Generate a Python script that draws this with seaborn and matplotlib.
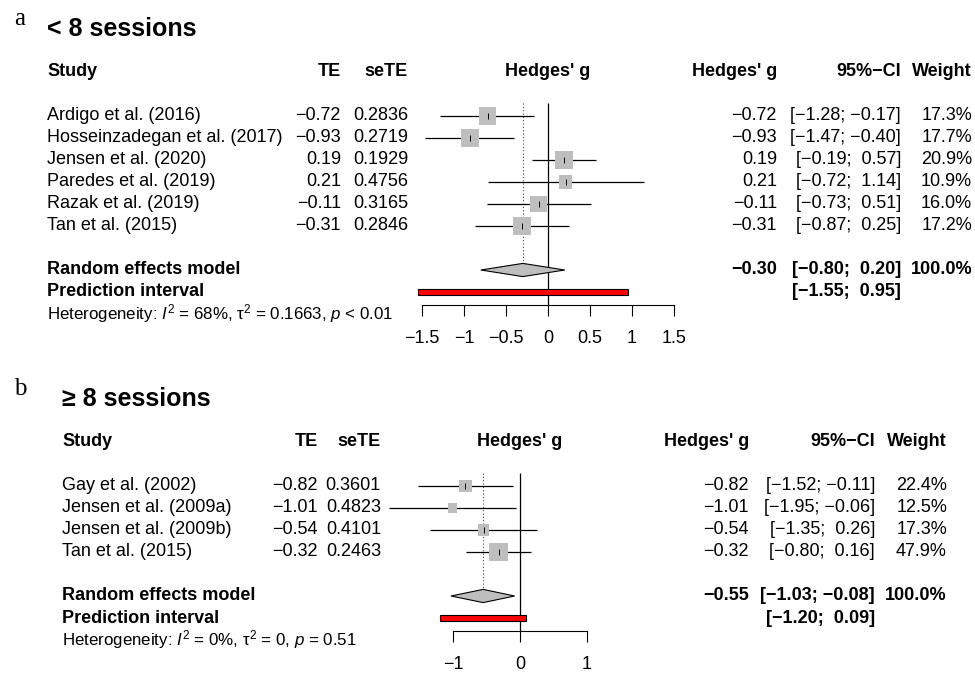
import numpy as np
import pandas as pd
import matplotlib
matplotlib.use("Agg")
import matplotlib.pyplot as plt
import matplotlib.transforms as mtransforms
import seaborn as sns

# ---- panel a: < 8 sessions
a_studies = ["Ardigo et al. (2016)", "Hosseinzadegan et al. (2017)", "Jensen et al. (2020)",
             "Paredes et al. (2019)", "Razak et al. (2019)", "Tan et al. (2015)"]
a_te = [-0.72, -0.93, 0.19, 0.21, -0.11, -0.31]
a_sete = [0.2836, 0.2719, 0.1929, 0.4756, 0.3165, 0.2846]
a_lower = [-1.28, -1.47, -0.19, -0.72, -0.73, -0.87]
a_upper = [-0.17, -0.40, 0.57, 1.14, 0.51, 0.25]
a_weight = [17.3, 17.7, 20.9, 10.9, 16.0, 17.2]
a_pooled = [-0.30, -0.80, 0.20]   # estimate, lower, upper
a_pred = [-1.55, 0.95]
a_ticks = [-1.5, -1, -0.5, 0, 0.5, 1, 1.5]
a_het = r"Heterogeneity: $I^2$ = 68%, τ$^2$ = 0.1663, $p$ < 0.01"

# ---- panel b: >= 8 sessions
b_studies = ["Gay et al. (2002)", "Jensen et al. (2009a)", "Jensen et al. (2009b)", "Tan et al. (2015)"]
b_te = [-0.82, -1.01, -0.54, -0.32]
b_sete = [0.3601, 0.4823, 0.4101, 0.2463]
b_lower = [-1.52, -1.95, -1.35, -0.80]
b_upper = [-0.11, -0.06, 0.26, 0.16]
b_weight = [22.4, 12.5, 17.3, 47.9]
b_pooled = [-0.55, -1.03, -0.08]
b_pred = [-1.20, 0.09]
b_ticks = [-1, 0, 1]
b_het = r"Heterogeneity: $I^2$ = 0%, τ$^2$ = 0, $p$ = 0.51"

sns.set_theme(style="white")
plt.rcParams['font.family'] = ['Liberation Sans', 'DejaVu Sans']
plt.rcParams['mathtext.fontset'] = 'custom'
plt.rcParams['mathtext.rm'] = 'Liberation Sans'
plt.rcParams['mathtext.it'] = 'Liberation Sans:italic'
plt.rcParams['mathtext.bf'] = 'Liberation Sans:bold'

W, H = 975, 674
fig = plt.figure(figsize=(W / 100, H / 100), dpi=100)
fig.patch.set_facecolor("white")

FS = 13


def num(v, nd):
    s = f"{v:.{nd}f}"
    return s.replace("-", "−")


def ci_str(lo, hi):
    lo_s = num(lo, 2)
    hi_s = num(hi, 2)
    if hi >= 0:
        hi_s = " " + hi_s
    return f"[{lo_s}; {hi_s}]"


def tick_str(t):
    s = f"{t:g}"
    return s.replace("-", "−")


def draw_panel(letter, title, studies, te, sete, lower, upper, weight, pooled, pred, ticks, het,
               x0_px, unit_px, row0_px, cols):
    n = len(studies)
    row_px = 22
    top_r, bot_r = -4.6, n + 4.6
    xl, xr = ticks[0], ticks[-1]
    left = (x0_px + xl * unit_px) / W
    width = (xr - xl) * unit_px / W
    top_px = row0_px + top_r * row_px
    bot_px = row0_px + bot_r * row_px
    ax = fig.add_axes([left, 1 - bot_px / H, width, (bot_px - top_px) / H])
    ax.patch.set_visible(False)

    rows = np.arange(n)
    pool_row = n + 1
    pred_row = n + 2
    het_row = n + 3
    axis_row = n + 2.6

    # reference lines
    ax.vlines(0, -0.6, axis_row, color="black", lw=0.9, zorder=1)
    ax.vlines(pooled[0], -0.6, pool_row - 0.3, color="#444444", lw=0.8,
              linestyles=(0, (1, 2)), zorder=1)

    # study CIs and weighted squares
    ax.hlines(rows, lower, upper, color="black", lw=0.9, zorder=2, clip_on=False)
    df = pd.DataFrame({"te": te, "row": rows, "weight": weight})
    k = 185 / max(weight)
    sns.scatterplot(data=df, x="te", y="row", size="weight",
                    sizes=(k * min(weight), k * max(weight)),
                    size_norm=(min(weight), max(weight)),
                    marker="s", color="#BEBEBE", edgecolor="none", linewidth=0,
                    legend=False, ax=ax, zorder=3, clip_on=False)
    ax.scatter(te, rows, marker="|", s=14, color="black", linewidths=0.7, zorder=4)

    # pooled diamond
    est, lo, hi = pooled
    ax.fill([lo, est, hi, est], [pool_row, pool_row - 0.3, pool_row, pool_row + 0.3],
            facecolor="#BEBEBE", edgecolor="black", lw=0.8, zorder=3, clip_on=False)

    # prediction interval
    ax.barh(pred_row, pred[1] - pred[0], left=pred[0], height=0.24,
            color="#FF0000", edgecolor="black", lw=0.8, zorder=3, clip_on=False)

    ax.set_xlim(xl, xr)
    ax.set_ylim(bot_r, top_r)
    ax.set_xlabel("")
    ax.set_ylabel("")
    ax.set_yticks([])
    for s in ["top", "left", "right"]:
        ax.spines[s].set_visible(False)
    sp = ax.spines["bottom"]
    sp.set_position(("data", axis_row))
    sp.set_bounds(xl, xr)
    sp.set_linewidth(0.8)
    sp.set_color("black")
    ax.set_xticks(ticks, [tick_str(t) for t in ticks])
    ax.tick_params(axis="x", direction="out", length=8, width=0.8, pad=10,
                   labelsize=FS, colors="black", bottom=True)

    tr = mtransforms.blended_transform_factory(fig.transFigure, ax.transData)

    def txt(xpx, y, s, ha="left", bold=False, size=FS, **kw):
        ax.text(xpx / W, y, s, transform=tr, ha=ha, va="center", fontsize=size,
                fontweight="bold" if bold else "normal", color="black", **kw)

    # panel letter and title
    ax.text(14 / W, -4.4, letter, transform=tr, ha="left", va="center",
            fontsize=18, family="Liberation Serif", color="black")
    txt(cols["study"], -3.95, title, bold=True, size=18)

    # header
    txt(cols["study"], -2, "Study", bold=True)
    txt(cols["te"], -2, "TE", ha="right", bold=True)
    txt(cols["sete"], -2, "seTE", ha="right", bold=True)
    ax.text(0, -2, "Hedges' g", ha="center", va="center", fontsize=FS,
            fontweight="bold", color="black")
    txt(cols["g"], -2, "Hedges' g", ha="right", bold=True)
    txt(cols["ci"], -2, "95%−CI", ha="right", bold=True)
    txt(cols["w"], -2, "Weight", ha="right", bold=True)

    for i in range(n):
        txt(cols["study"], i, studies[i])
        txt(cols["te"], i, num(te[i], 2), ha="right")
        txt(cols["sete"], i, num(sete[i], 4), ha="right")
        txt(cols["g"], i, num(te[i], 2), ha="right")
        txt(cols["ci"], i, ci_str(lower[i], upper[i]), ha="right")
        txt(cols["w"], i, f"{weight[i]:.1f}%", ha="right")

    txt(cols["study"], pool_row, "Random effects model", bold=True)
    txt(cols["g"], pool_row, num(est, 2), ha="right", bold=True)
    txt(cols["ci"], pool_row, ci_str(lo, hi), ha="right", bold=True)
    txt(cols["w"], pool_row, "100.0%", ha="right", bold=True)
    txt(cols["study"], pred_row, "Prediction interval", bold=True)
    txt(cols["ci"], pred_row, ci_str(pred[0], pred[1]), ha="right", bold=True)
    txt(cols["study"], het_row, het, size=12.2)
    return ax


draw_panel("a", "< 8 sessions", a_studies, a_te, a_sete, a_lower, a_upper, a_weight,
           a_pooled, a_pred, a_ticks, a_het, x0_px=548, unit_px=84, row0_px=116,
           cols=dict(study=47, te=341, sete=408, g=777, ci=901, w=972))

draw_panel("b", "≥ 8 sessions", b_studies, b_te, b_sete, b_lower, b_upper, b_weight,
           b_pooled, b_pred, b_ticks, b_het, x0_px=520, unit_px=67, row0_px=486,
           cols=dict(study=62, te=318, sete=381, g=749, ci=875, w=947))

fig.savefig("out.png", dpi=100, facecolor="white")
